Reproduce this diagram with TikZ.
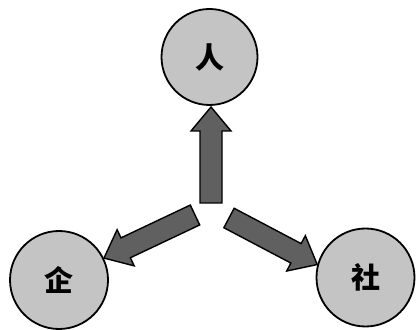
\documentclass[tikz,border=0pt]{standalone}
\usepackage{fontspec}
\newfontfamily\cjk{Noto Sans CJK SC}
\usetikzlibrary{calc}
\definecolor{ballgray}{HTML}{C4C4C4}
\definecolor{arrowgray}{HTML}{606060}
\tikzset{
  ball/.style={circle, draw=black, line width=1.8pt, fill=ballgray, minimum size=96pt, inner sep=0pt, font=\cjk\bfseries\fontsize{29}{29}\selectfont},
  fatarrow/.style={draw=black, line width=1.4pt, fill=arrowgray, line join=miter}
}
\newcommand{\fatarrowdraw}[2]{%
  \path let \p1=($(#2)-(#1)$), \n1={veclen(\x1,\y1)}, \n2={atan2(\y1,\x1)} in
    [fatarrow, shift={(#1)}, rotate=\n2]
    (0pt,-11pt) -- (\n1-24pt,-11pt) -- (\n1-24pt,-20pt) -- (\n1,0pt) --
    (\n1-24pt,20pt) -- (\n1-24pt,11pt) -- (0pt,11pt) -- cycle;}
\begin{document}
\begin{tikzpicture}[x=1pt,y=1pt]
\useasboundingbox (0,0) rectangle (417,329);
\node[ball] (T) at (209.5,272) {人};
\node[ball, minimum size=98pt] (L) at (59,49) {企};
\node[ball, minimum size=98pt] (R) at (365.5,51.5) {社};
\coordinate (tailU) at (211,126);
\coordinate (tipU) at (211,222);
\coordinate (tailL) at (195,114);
\coordinate (tailR) at (229,111);
\fatarrowdraw{tailU}{tipU}
\fatarrowdraw{tailL}{L.26}
\fatarrowdraw{tailR}{R.165}
\end{tikzpicture}
\end{document}
